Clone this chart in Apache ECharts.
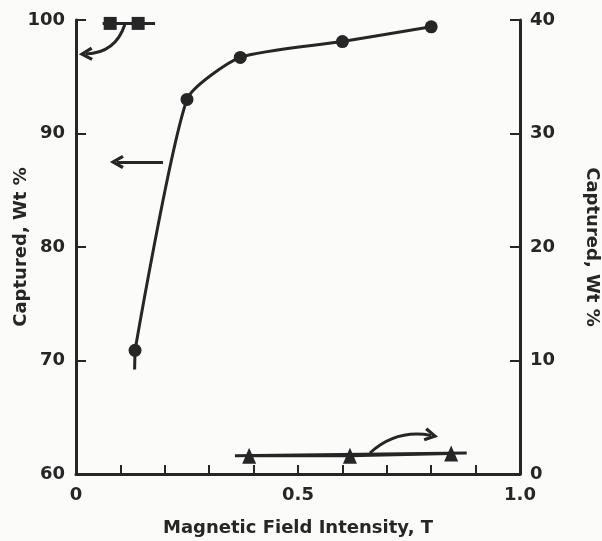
<!DOCTYPE html>
<html>
<head>
<meta charset="utf-8">
<script src="https://cdn.jsdelivr.net/npm/echarts@6/dist/echarts.min.js"></script>
<style>
  html, body { margin: 0; padding: 0; background: #fbfbfa; }
  #main { width: 602px; height: 541px; }
</style>
</head>
<body>
<div id="main"></div>
<script>
// main curve, left axis (Captured, Wt %)
var fieldT = [0.133, 0.25, 0.37, 0.6, 0.8];
var capturedLeft = [70.9, 93.0, 96.7, 98.1, 99.4];
var tailT = [0.133, 0.132];
var tailLeft = [70.9, 69.2];

// squares at top, left axis
var squareT = [0.077, 0.14];
var squareLeft = [99.7, 99.7];
var squareLineT = [0.06, 0.178];
var squareLineLeft = [99.7, 99.7];

// triangles, right axis
var triT = [0.39, 0.617, 0.845];
var triRight = [1.6, 1.6, 1.8];
var triLineT = [0.358, 0.88];
var triLineRight = [1.6, 1.85];

// tick labels
var xLabels = { '0': '0', '0.5': '0.5', '1': '1.0' };

var ink = '#262626';
var font = 'DejaVu Sans';

function pairs(xs, ys) {
  var out = [];
  for (var i = 0; i < xs.length; i++) out.push([xs[i], ys[i]]);
  return out;
}

var arrowHead = 'path://M10,0 L20,14 L16,16 L10,7 L4,16 L0,14 Z';

// pointer arrows drawn as a lines series, so they can bend
function arrow(from, to, bend, yIdx) {
  return {
    type: 'lines',
    coordinateSystem: 'cartesian2d',
    yAxisIndex: yIdx || 0,
    silent: true,
    symbol: ['none', arrowHead],
    symbolSize: [16, 14],
    lineStyle: { color: ink, width: 3, opacity: 1, curveness: bend },
    data: [{ coords: [from, to] }]
  };
}

var axisFont = { fontFamily: font, fontWeight: 'bold', fontSize: 18, color: ink };

var chart = echarts.init(document.getElementById('main'));
var option = {
  backgroundColor: '#fbfbfa',
  animation: false,
  grid: { left: 76, right: 82, top: 20, bottom: 67, containLabel: false, outerBoundsMode: 'none' },
  xAxis: {
    type: 'value',
    min: 0, max: 1, interval: 0.1,
    name: 'Magnetic Field Intensity, T',
    nameLocation: 'middle',
    nameGap: 45,
    nameMoveOverlap: false,
    nameTextStyle: axisFont,
    axisLine: { lineStyle: { color: ink, width: 3 } },
    axisTick: { inside: true, length: 9, lineStyle: { color: ink, width: 2 } },
    splitLine: { show: false },
    axisLabel: {
      margin: 12,
      fontFamily: font, fontWeight: 'bold', fontSize: 18, color: ink,
      formatter: function (v) {
        var k = String(Math.round(v * 10) / 10);
        return xLabels[k] || '';
      }
    }
  },
  yAxis: [{
    type: 'value',
    min: 60, max: 100, interval: 10,
    name: 'Captured, Wt %',
    nameLocation: 'middle',
    nameGap: 46,
    nameMoveOverlap: false,
    nameTextStyle: axisFont,
    axisLine: { show: true, lineStyle: { color: ink, width: 3 } },
    axisTick: { show: true, inside: true, length: 10, lineStyle: { color: ink, width: 2 } },
    splitLine: { show: false },
    axisLabel: { margin: 11, fontFamily: font, fontWeight: 'bold', fontSize: 18, color: ink }
  }, {
    type: 'value',
    min: 0, max: 40, interval: 10,
    position: 'right',
    name: 'Captured, Wt %',
    nameLocation: 'middle',
    nameGap: 63,
    nameRotate: -90,
    nameMoveOverlap: false,
    nameTextStyle: axisFont,
    axisLine: { show: true, lineStyle: { color: ink, width: 3 } },
    axisTick: { show: true, inside: true, length: 10, lineStyle: { color: ink, width: 2 } },
    splitLine: { show: false },
    axisLabel: { margin: 10, fontFamily: font, fontWeight: 'bold', fontSize: 18, color: ink }
  }],
  series: [
    {
      type: 'line',
      data: pairs(fieldT, capturedLeft),
      smooth: 0.2,
      symbol: 'circle',
      symbolSize: 13,
      clip: false,
      lineStyle: { color: ink, width: 3 },
      itemStyle: { color: ink }
    },
    {
      type: 'line',
      data: pairs(tailT, tailLeft),
      symbol: 'none',
      lineStyle: { color: ink, width: 3 }
    },
    {
      type: 'line',
      data: pairs(squareLineT, squareLineLeft),
      symbol: 'none',
      clip: false,
      lineStyle: { color: ink, width: 3 }
    },
    {
      type: 'line',
      data: pairs(squareT, squareLeft),
      symbol: 'rect',
      symbolSize: 13,
      clip: false,
      lineStyle: { width: 0 },
      itemStyle: { color: ink }
    },
    {
      type: 'line',
      yAxisIndex: 1,
      data: pairs(triLineT, triLineRight),
      symbol: 'none',
      lineStyle: { color: ink, width: 3 }
    },
    {
      type: 'line',
      yAxisIndex: 1,
      data: pairs(triT, triRight),
      symbol: 'triangle',
      symbolSize: [14, 16],
      lineStyle: { color: ink, width: 3 },
      itemStyle: { color: ink }
    },
    arrow([0.11, 99.6], [0.022, 97.0], 0.35, 0),
    arrow([0.196, 87.5], [0.092, 87.5], 0, 0),
    arrow([0.662, 1.85], [0.8, 3.4], 0.25, 1)
  ]
};
chart.setOption(option);
</script>
</body>
</html>
